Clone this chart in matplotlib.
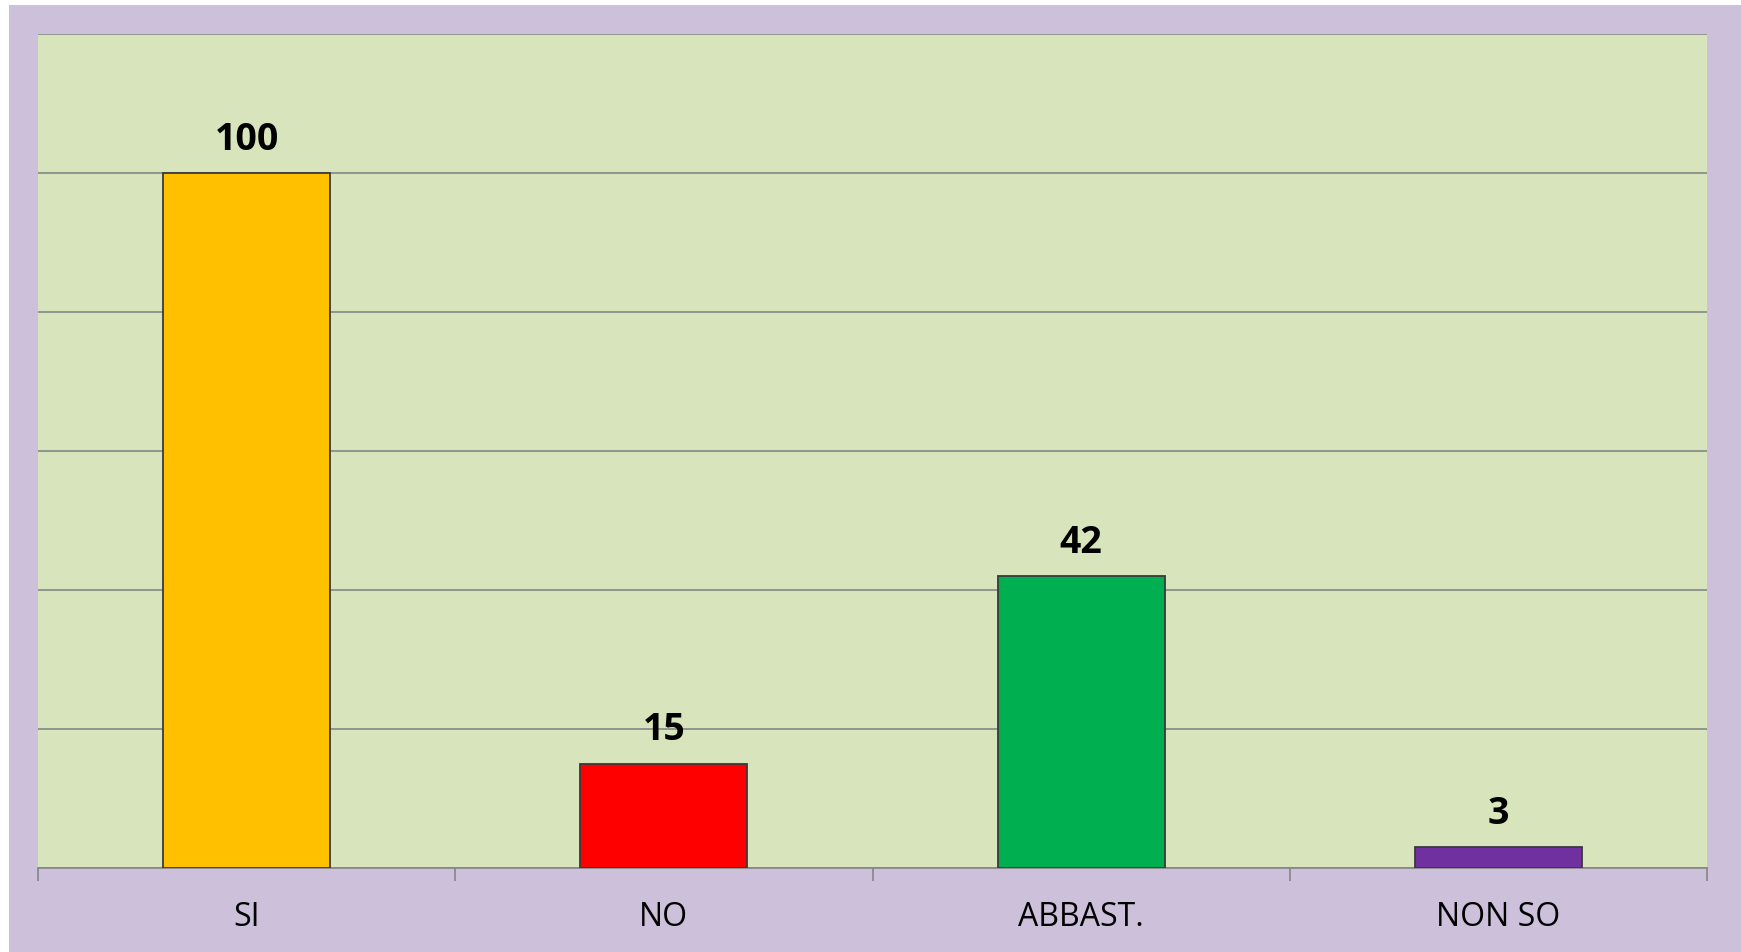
import matplotlib.pyplot as plt
from matplotlib.patches import Rectangle

categories = ["SI", "NO", "ABBAST.", "NON SO"]
values = [100, 15, 42, 3]
colors = ["#FFC000", "#FF0000", "#00B050", "#7030A0"]

plt.rcParams['font.family'] = ['Open Sans', 'DejaVu Sans']

fig = plt.figure(figsize=(17.41, 9.53), dpi=100, facecolor="white")
W, H = 1741, 953
# lilac chart area background, kept beneath the axes
bg = Rectangle((9 / W, 0), 1 - 9 / W, 1 - 6 / H, transform=fig.transFigure,
               facecolor="#CCC0DA", edgecolor="none", zorder=-10)
fig.add_artist(bg)

ax = fig.add_axes([38 / W, 1 - 869 / H, (1707 - 38) / W, (869 - 35) / H])
ax.set_zorder(1)
ax.set_facecolor("#D8E4BC")

x = range(len(categories))
ax.bar(x, values, width=0.40, color=colors, edgecolor="#3A3A3A", linewidth=1.3, zorder=3)

for xi, v in zip(x, values):
    ax.annotate(str(v), (xi, v), xytext=(0, 11), textcoords="offset points",
                ha="center", va="bottom", fontsize=27, fontweight="bold", color="black")

ax.set_xlim(-0.5, len(categories) - 0.5)
ax.set_ylim(0, 120)
ax.set_yticks(range(0, 121, 20))
ax.yaxis.grid(True, color="#868686", linewidth=1.2, zorder=1)
ax.tick_params(axis="y", left=False, labelleft=False)

ax.set_xticks(x)
ax.set_xticklabels(categories, fontsize=23)
ax.set_xticks([i - 0.5 for i in range(len(categories) + 1)], minor=True)
ax.tick_params(axis="x", which="major", length=0, pad=23)
ax.tick_params(axis="x", which="minor", length=9, color="#868686", width=1.2)

for s in ["left", "right", "top"]:
    ax.spines[s].set_visible(False)
ax.spines["bottom"].set_color("#868686")
ax.spines["bottom"].set_linewidth(1.2)

fig.savefig("out.png", dpi=100, facecolor=fig.get_facecolor())
